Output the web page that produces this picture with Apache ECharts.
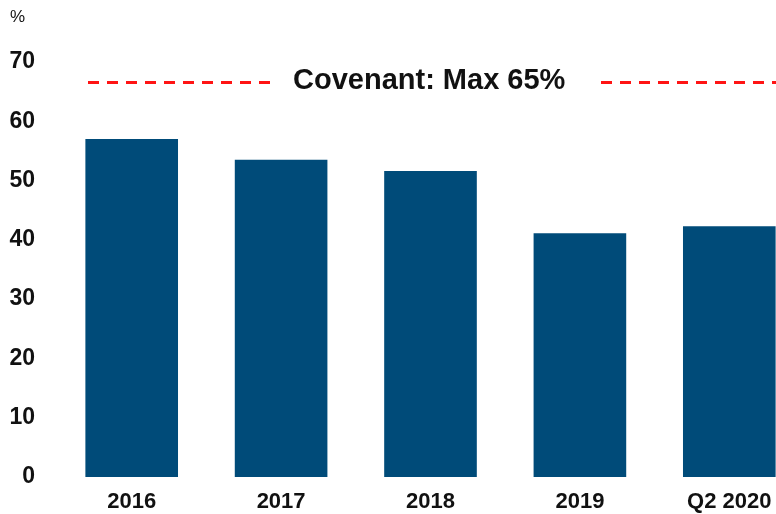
<!DOCTYPE html>
<html>
<head>
<meta charset="utf-8">
<script src="https://cdn.jsdelivr.net/npm/echarts@6/dist/echarts.min.js"></script>
<style>
html,body{margin:0;padding:0;background:#fff;}
#chart{width:776px;height:514px;}
</style>
</head>
<body>
<div id="chart"></div>
<script>
var categories = ['2016', '2017', '2018', '2019', 'Q2 2020'];
var values = [57.0, 53.5, 51.6, 41.1, 42.3];
var yTicks = [0, 10, 20, 30, 40, 50, 60, 70];
var covenantLevel = [66.6];
var covenantText = 'Covenant: Max 65%';
var unitLabel = '%';

var chart = echarts.init(document.getElementById('chart'));
var FONT = '"Liberation Sans", Arial, sans-serif';
chart.setOption({
  animation: false,
  backgroundColor: '#ffffff',
  title: [{
    text: covenantText,
    left: 270,
    top: 64,
    padding: [2, 29, 2, 23],
    backgroundColor: '#ffffff',
    textStyle: { fontFamily: FONT, fontSize: 29, fontWeight: 'bold', color: '#111111' }
  }, {
    text: unitLabel,
    left: 10,
    top: 9,
    padding: 0,
    textStyle: { fontFamily: FONT, fontSize: 17, fontWeight: 'normal', color: '#111111' }
  }],
  grid: { left: 57, width: 747, top: 62, bottom: 37, outerBoundsMode: 'none', containLabel: false },
  xAxis: [{
    type: 'category',
    data: categories,
    axisLine: { show: false },
    axisTick: { show: false },
    axisLabel: { fontFamily: FONT, fontSize: 22, fontWeight: 'bold', color: '#111111', margin: 14 }
  }, {
    type: 'value', min: 0, max: 1, show: false
  }],
  yAxis: {
    type: 'value',
    min: yTicks[0],
    max: yTicks[yTicks.length - 1],
    interval: yTicks[1] - yTicks[0],
    axisLine: { show: false },
    axisTick: { show: false },
    splitLine: { show: false },
    axisLabel: { fontFamily: FONT, fontSize: 23, fontWeight: 'bold', color: '#111111', margin: 22 }
  },
  series: [{
    type: 'bar',
    data: values,
    barWidth: '62%',
    itemStyle: { color: '#004b79' }
  }, {
    type: 'line',
    xAxisIndex: 1,
    data: [],
    markLine: {
      silent: true,
      symbol: 'none',
      label: { show: false },
      lineStyle: { color: '#ff1414', type: [11, 8], width: 3 },
      data: [[{ coord: [0.0415, covenantLevel[0]] }, { coord: [1, covenantLevel[0]] }]]
    }
  }]
});
</script>
</body>
</html>
